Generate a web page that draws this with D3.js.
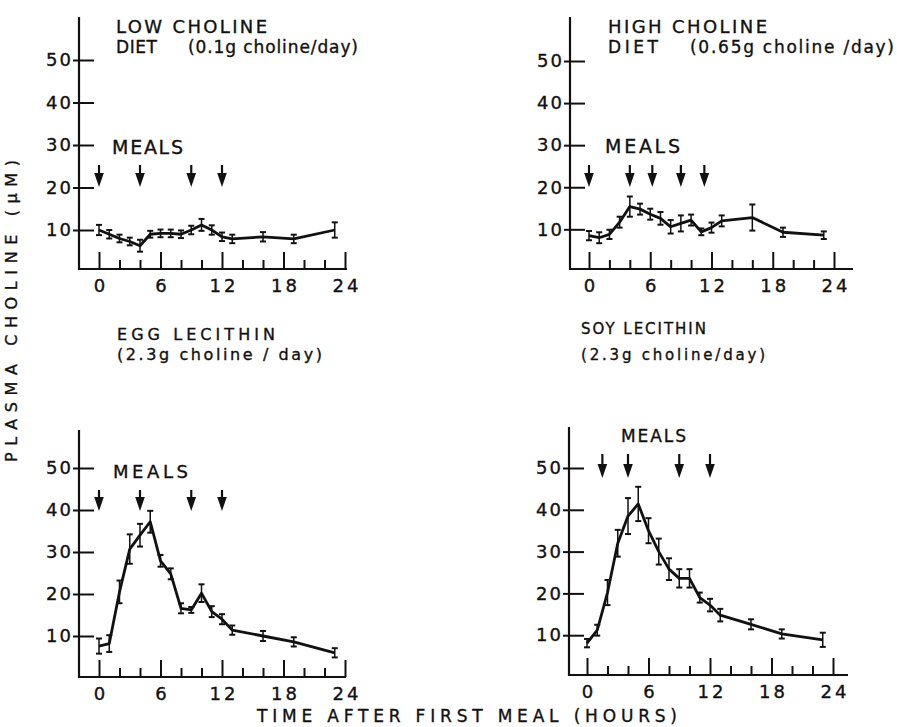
<!DOCTYPE html>
<html>
<head>
<meta charset="utf-8">
<script src="https://cdn.jsdelivr.net/npm/d3@7"></script>
<style>
  html, body { margin: 0; padding: 0; background: #fff; }
  svg { display: block; }
  text { font-family: "DejaVu Sans", "Liberation Sans", sans-serif; fill: #111; stroke: #111; stroke-width: 0.35px; }
</style>
</head>
<body>
<svg id="chart" width="897" height="727"></svg>
<script>
// ---------- DATA ----------
const hours = [0, 1, 2, 3, 4, 5, 6, 7, 8, 9, 10, 11, 12, 13, 16, 19, 23];

const lowCholine     = [10.0, 9.0, 8.0, 7.3, 6.3, 9.0, 9.2, 9.2, 9.0, 10.0, 11.2, 10.0, 8.4, 7.9, 8.4, 7.9, 10.0];
const lowCholineErr  = [1.2, 1.0, 0.9, 0.9, 1.4, 0.8, 0.9, 0.9, 0.9, 1.0, 1.4, 1.1, 1.0, 1.0, 1.1, 1.0, 1.8];

const highCholine    = [8.5, 8.0, 8.8, 11.7, 15.4, 14.8, 13.6, 12.6, 10.6, 11.4, 12.2, 9.4, 10.4, 12.0, 12.8, 9.3, 8.6];
const highCholineErr = [1.1, 1.3, 1.1, 1.3, 2.4, 1.3, 1.3, 1.5, 1.6, 1.9, 1.3, 0.8, 1.2, 1.3, 3.1, 1.1, 0.9];

const eggLecithin    = [7.6, 8.2, 20.5, 30.7, 34.0, 37.2, 27.9, 24.8, 16.6, 16.2, 20.2, 15.8, 14.0, 11.4, 10.0, 8.6, 6.0];
const eggLecithinErr = [1.8, 2.0, 2.7, 3.5, 2.7, 2.6, 1.4, 1.3, 1.2, 0.7, 2.1, 1.3, 1.2, 1.1, 1.2, 1.1, 1.1];

const soyLecithin    = [8.1, 11.2, 20.2, 32.0, 38.5, 41.4, 35.0, 30.0, 25.8, 23.6, 23.6, 19.0, 17.2, 14.8, 12.6, 10.3, 8.9];
const soyLecithinErr = [1.0, 1.3, 3.0, 3.2, 4.3, 4.1, 3.0, 3.1, 2.6, 2.2, 2.2, 1.2, 1.5, 1.5, 1.2, 1.1, 1.7];

const mealsLow  = [0, 4, 9, 12];
const mealsHigh = [0, 4, 6.2, 9, 11.3];
const mealsEgg  = [0, 4, 9, 12];
const mealsSoy  = [1.5, 4, 9, 12];

const yTickValues  = [10, 20, 30, 40, 50];
const xMajorTicks  = [0, 6, 12, 18, 24];
const xMinorTicks  = [2, 4, 8, 10, 14, 16, 20, 22];

const yAxisTitle = "PLASMA CHOLINE (\u03BCM)";
const xAxisTitle = "TIME AFTER FIRST MEAL (HOURS)";

// ---------- LAYOUT (panel geometry) ----------
const panels = [
  { values: lowCholine, errs: lowCholineErr, meals: mealsLow,
    ax: 79, x0: 99, x24: 345, y0: 272.5, y50: 60, top: 17, base: 269, right: 347,
    arrowTop: 165, arrowTip: 187,
    mealsLbl: { x: 112, y: 154, size: 19, len: 71 },
    titles: [
      { t: "LOW CHOLINE", x: 116, y: 32.5, size: 18, len: 151 },
      { t: "DIET", x: 116, y: 53, size: 17, len: 41 },
      { t: "(0.1g choline/day)", x: 188, y: 53, size: 17, len: 170 }
    ] },
  { values: highCholine, errs: highCholineErr, meals: mealsHigh,
    ax: 570, x0: 589, x24: 834, y0: 271.4, y50: 61, top: 17, base: 269, right: 853,
    arrowTop: 165, arrowTip: 187,
    mealsLbl: { x: 605, y: 152.7, size: 19, len: 75 },
    titles: [
      { t: "HIGH CHOLINE", x: 608, y: 33, size: 18, len: 159 },
      { t: "DIET", x: 608, y: 53, size: 17, len: 50 },
      { t: "(0.65g choline /day)", x: 690, y: 53, size: 17, len: 204 }
    ] },
  { values: eggLecithin, errs: eggLecithinErr, meals: mealsEgg,
    ax: 79, x0: 99, x24: 345, y0: 678, y50: 468, top: 430, base: 677, right: 346,
    arrowTop: 490, arrowTip: 511,
    mealsLbl: { x: 113, y: 478, size: 18, len: 75 },
    titles: [
      { t: "EGG LECITHIN", x: 117, y: 340, size: 16, len: 158 },
      { t: "(2.3g choline / day)", x: 117, y: 360, size: 16, len: 205 }
    ] },
  { values: soyLecithin, errs: soyLecithinErr, meals: mealsSoy,
    ax: 569, x0: 587, x24: 833, y0: 677, y50: 468, top: 427, base: 675, right: 848,
    arrowTop: 454, arrowTip: 478,
    mealsLbl: { x: 621, y: 442, size: 17, len: 65 },
    titles: [
      { t: "SOY LECITHIN", x: 581, y: 334, size: 15, len: 125 },
      { t: "(2.3g choline/day)", x: 581, y: 360, size: 15, len: 184 }
    ] }
];

const svg = d3.select("#chart");
svg.append("rect").attr("width", 897).attr("height", 727).attr("fill", "#fff");

const INK = "#111";

panels.forEach(p => {
  const g = svg.append("g");
  const x = d3.scaleLinear().domain([0, 24]).range([p.x0, p.x24]);
  const y = d3.scaleLinear().domain([0, 50]).range([p.y0, p.y50]);

  // axis lines
  g.append("line").attr("x1", p.ax).attr("x2", p.ax).attr("y1", p.top).attr("y2", p.base + 1)
    .attr("stroke", INK).attr("stroke-width", 2.2);
  g.append("line").attr("x1", p.ax).attr("x2", p.right).attr("y1", p.base).attr("y2", p.base)
    .attr("stroke", INK).attr("stroke-width", 2.2);

  // y axis ticks & labels
  const ya = d3.axisLeft(y).tickValues(yTickValues).tickSizeInner(-15).tickSizeOuter(0)
    .tickPadding(6).tickFormat(d3.format("d"));
  const yg = g.append("g").attr("transform", `translate(${p.ax},0)`).call(ya);
  yg.select(".domain").remove();
  yg.selectAll(".tick line").attr("x1", -6).attr("stroke", INK).attr("stroke-width", 2);
  yg.selectAll(".tick text").attr("font-size", 18).attr("letter-spacing", "2px")
    .attr("font-family", "DejaVu Sans").attr("fill", INK);

  // x axis major ticks & labels
  const xa = d3.axisBottom(x).tickValues(xMajorTicks).tickSizeInner(-17).tickSizeOuter(0)
    .tickPadding(10).tickFormat(d3.format("d"));
  const xg = g.append("g").attr("transform", `translate(0,${p.base})`).call(xa);
  xg.select(".domain").remove();
  xg.selectAll(".tick line").attr("stroke", INK).attr("stroke-width", 2);
  xg.selectAll(".tick text").attr("font-size", 18).attr("letter-spacing", "3px").attr("dx", "1.5")
    .attr("font-family", "DejaVu Sans").attr("fill", INK);

  // x axis minor ticks
  const xm = d3.axisBottom(x).tickValues(xMinorTicks).tickSizeInner(-9).tickSizeOuter(0).tickFormat("");
  const xmg = g.append("g").attr("transform", `translate(0,${p.base})`).call(xm);
  xmg.select(".domain").remove();
  xmg.selectAll(".tick line").attr("stroke", INK).attr("stroke-width", 2);

  // data
  const pts = hours.map((h, i) => ({ h, v: p.values[i], e: p.errs[i] }));

  // error bars
  const eb = g.append("g").attr("stroke", INK).attr("stroke-width", 1.5);
  pts.forEach(d => {
    const cx = x(d.h), yt = y(d.v + d.e), yb = y(d.v - d.e);
    eb.append("line").attr("x1", cx).attr("x2", cx).attr("y1", yt).attr("y2", yb);
    eb.append("line").attr("x1", cx - 3).attr("x2", cx + 3).attr("y1", yt).attr("y2", yt).attr("stroke-width", 2);
    eb.append("line").attr("x1", cx - 3).attr("x2", cx + 3).attr("y1", yb).attr("y2", yb).attr("stroke-width", 2);
  });

  // line
  const line = d3.line().x(d => x(d.h)).y(d => y(d.v));
  g.append("path").datum(pts).attr("d", line).attr("fill", "none")
    .attr("stroke", INK).attr("stroke-width", 2.8).attr("stroke-linejoin", "round");

  // meal arrows
  p.meals.forEach(m => {
    const cx = x(m);
    const headTop = p.arrowTip - 14;
    g.append("line").attr("x1", cx).attr("x2", cx).attr("y1", p.arrowTop).attr("y2", headTop + 2)
      .attr("stroke", INK).attr("stroke-width", 2.2);
    g.append("path")
      .attr("d", `M${cx - 4.8},${headTop} L${cx + 4.8},${headTop} L${cx},${p.arrowTip} Z`)
      .attr("fill", INK);
  });

  // MEALS label
  g.append("text").attr("x", p.mealsLbl.x).attr("y", p.mealsLbl.y)
    .attr("font-size", p.mealsLbl.size)
    .attr("textLength", p.mealsLbl.len).attr("lengthAdjust", "spacing")
    .text("MEALS");

  // titles
  p.titles.forEach(t => {
    g.append("text").attr("x", t.x).attr("y", t.y).attr("font-size", t.size)
      .attr("textLength", t.len).attr("lengthAdjust", "spacing").text(t.t);
  });
});

// axis titles
svg.append("text")
  .attr("transform", "translate(11,311) rotate(-90)")
  .attr("text-anchor", "middle").attr("dy", "0.35em")
  .attr("font-size", 16)
  .attr("textLength", 302).attr("lengthAdjust", "spacing")
  .text(yAxisTitle);

svg.append("text")
  .attr("x", 257).attr("y", 722)
  .attr("font-size", 17)
  .attr("textLength", 420).attr("lengthAdjust", "spacing")
  .text(xAxisTitle);
</script>
</body>
</html>
